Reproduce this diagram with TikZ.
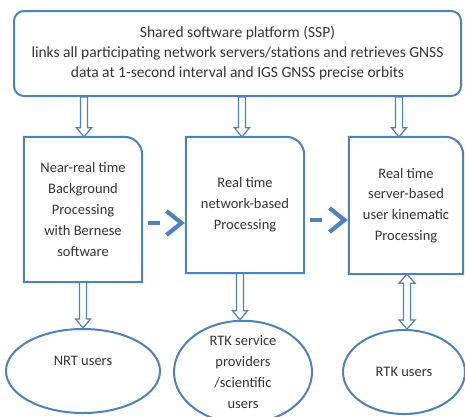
\documentclass[tikz,border=0pt]{standalone}
\usepackage{fontspec}
\setmainfont{Carlito}
\usetikzlibrary{arrows.meta,calc,shapes.geometric}
\definecolor{ob}{HTML}{4F81BD}
\definecolor{tx}{HTML}{363636}
\newcommand\cbox[1]{\draw[boxline] (#1.south west) -- (#1.north west) -- ([xshift=-18pt]#1.north east) arc[start angle=90,end angle=0,radius=18pt] -- (#1.south east) -- cycle;}
\newcommand\harrow[2]{\draw[hollow] let \p1=#1, \p2=#2 in (\x1-3.5pt,\y1) -- (\x1-3.5pt,\y2+9pt) -- (\x1-7.5pt,\y2+9pt) -- (\x1,\y2) -- (\x1+7.5pt,\y2+9pt) -- (\x1+3.5pt,\y2+9pt) -- (\x1+3.5pt,\y1) -- cycle;}
\newcommand\dharrow[2]{\draw[hollow] let \p1=#1, \p2=#2 in (\x1,\y1) -- (\x1+8pt,\y1-9pt) -- (\x1+3.5pt,\y1-9pt) -- (\x1+3.5pt,\y2+9pt) -- (\x1+8pt,\y2+9pt) -- (\x1,\y2) -- (\x1-8pt,\y2+9pt) -- (\x1-3.5pt,\y2+9pt) -- (\x1-3.5pt,\y1-9pt) -- (\x1-8pt,\y1-9pt) -- cycle;}
\begin{document}
\begin{tikzpicture}[x=1pt,y=-1pt,
  font=\fontsize{14.5}{20.8}\selectfont,
  every node/.style={text=tx, inner sep=0pt, align=center},
  boxline/.style={draw=ob, line width=2pt},
  topbox/.style={draw=ob, line width=2pt, rounded corners=10pt, minimum width=447pt, minimum height=85pt},
  usr/.style={ellipse, draw=ob, line width=2pt},
  hollow/.style={draw=ob, line width=1.2pt, fill=white},
  dar/.style={draw=ob, line width=4.2pt, dash pattern=on 12pt off 30pt, -{Straight Barb[length=15pt,width=24pt,line width=4.2pt]}}]
\useasboundingbox (0,0) rectangle (465,416);
\fill[white] (0,0) rectangle (465,416);
\node[topbox, font=\fontsize{15.5}{20}\selectfont] (top) at (237.5,53.5) {Shared software platform (SSP)\\links all participating network servers/stations and retrieves GNSS\\data at 1-second interval and IGS GNSS precise orbits};
\node[minimum width=118pt, minimum height=145pt] (b1) at (83,209.5) {Near-real time\\Background\\Processing\\with Bernese\\software};
\node[minimum width=118pt, minimum height=136pt] (b2) at (245,205) {Real time\\network-based\\Processing};
\node[minimum width=114pt, minimum height=137pt] (b3) at (406,205.5) {Real time\\server-based\\user kinematic\\Processing};
\cbox{b1}\cbox{b2}\cbox{b3}
\node[usr, minimum width=154pt, minimum height=84pt] (e1) at (83,371) {};
\node (t1) at (83,361) {NRT users};
\node[usr, minimum width=138pt, minimum height=86pt] (e2) at (243,372) {RTK service\\providers\\/scientific\\users};
\node[usr, minimum width=122pt, minimum height=84pt] (e3) at (404,372) {RTK users};
\coordinate (a1) at (84,0);
\coordinate (a2) at (242,0);
\coordinate (a3) at (399,0);
\coordinate (c1) at (83,0);
\coordinate (c2) at (240,0);
\coordinate (c3) at (407,0);
\coordinate (m1) at (0,223);
\coordinate (m2) at (0,220);
\harrow{(top.south -| a1)}{(b1.north -| a1)}
\harrow{(top.south -| a2)}{(b2.north -| a2)}
\harrow{(top.south -| a3)}{(b3.north -| a3)}
\harrow{(b1.south -| c1)}{(e1.north -| c1)}
\harrow{(b2.south -| c2)}{(e2.north -| c2)}
\dharrow{(b3.south -| c3)}{(e3.north -| c3)}
\draw[dar] ([xshift=6pt]b1.east |- m1) -- ([xshift=-1pt]b2.west |- m1);
\draw[dar] ([xshift=6pt]b2.east |- m2) -- ([xshift=-1pt]b3.west |- m2);
\end{tikzpicture}
\end{document}
